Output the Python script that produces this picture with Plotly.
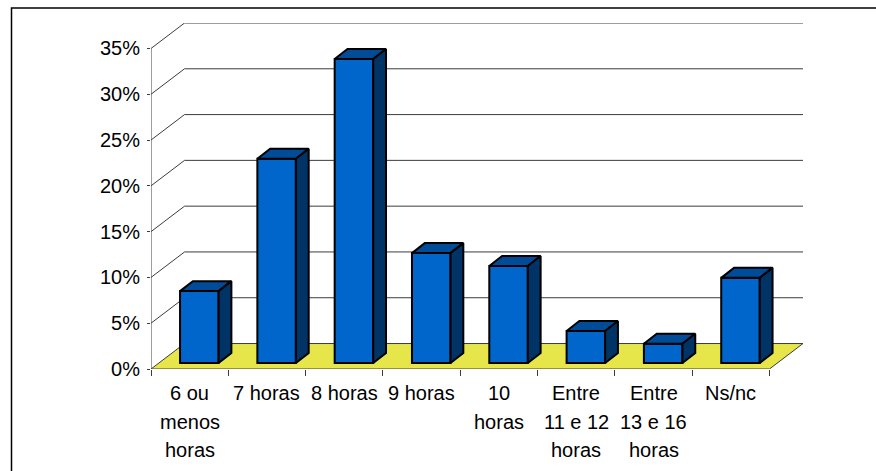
import plotly.graph_objects as go

# --- data -------------------------------------------------------------
category_lines = [
    ["6 ou", "menos", "horas"],
    ["7 horas"],
    ["8 horas"],
    ["9 horas"],
    ["10", "horas"],
    ["Entre", "11 e 12", "horas"],
    ["Entre", "13 e 16", "horas"],
    ["Ns/nc"],
]
values = [7.85, 22.3, 33.2, 12.0, 10.6, 3.5, 2.1, 9.3]
y_ticks = [0, 5, 10, 15, 20, 25, 30, 35]
y_tick_labels = ["0%", "5%", "10%", "15%", "20%", "25%", "30%", "35%"]

# --- style / pseudo-3D geometry (in axis units) -----------------------
FRONT, TOP, SIDE = "#0066CC", "#004C99", "#003366"
FLOOR = "#E6E64A"
GRID = "#3C3C3C"
FONT = dict(family="Liberation Sans, Arial, sans-serif", size=20, color="#000000")

PX_X, PX_Y = 77.25, 9.17          # pixels per axis unit
WALL_DX, WALL_DY = 33.5 / PX_X, 25.5 / PX_Y
BAR_W = 38.5 / PX_X
BAR_OFF = 0.125
BAR_BASE = 6 / PX_Y
BAR_DX, BAR_DY = 12.8 / PX_X, 10 / PX_Y

n = len(values)
L, R, T, B = 151, 73, 22.5, 102
x_max, y_max = n + WALL_DX, y_ticks[-1] + WALL_DY
plot_w, plot_h = 876 - L - R, 471 - T - B

centers = [i + 0.5 + BAR_OFF for i in range(n)]
fig = go.Figure()

# bar front faces
fig.add_trace(go.Bar(
    x=centers, y=values, base=[BAR_BASE] * n, width=[BAR_W] * n,
    marker=dict(color=FRONT, line=dict(color="#000000", width=2)),
    hoverinfo="skip", showlegend=False,
))

# bar top and side faces
for c, v in zip(centers, values):
    x0, x1 = c - BAR_W / 2, c + BAR_W / 2
    y0, y1 = BAR_BASE, BAR_BASE + v
    fig.add_trace(go.Scatter(
        x=[x0, x1, x1 + BAR_DX, x0 + BAR_DX, x0],
        y=[y1, y1, y1 + BAR_DY, y1 + BAR_DY, y1],
        mode="lines", fill="toself", fillcolor=TOP,
        line=dict(color="#000000", width=2),
        hoverinfo="skip", showlegend=False,
    ))
    fig.add_trace(go.Scatter(
        x=[x1, x1 + BAR_DX, x1 + BAR_DX, x1, x1],
        y=[y0, y0 + BAR_DY, y1 + BAR_DY, y1, y0],
        mode="lines", fill="toself", fillcolor=SIDE,
        line=dict(color="#000000", width=2),
        hoverinfo="skip", showlegend=False,
    ))

shapes = []
def line(x0, y0, x1, y1, color=GRID, width=1):
    shapes.append(dict(type="line", xref="x", yref="y", x0=x0, y0=y0, x1=x1, y1=y1,
                       layer="below", line=dict(color=color, width=width)))

# floor
shapes.append(dict(type="path", xref="x", yref="y", layer="below",
                   path=f"M 0 0 L {n} 0 L {x_max} {WALL_DY} L {WALL_DX} {WALL_DY} Z",
                   fillcolor=FLOOR, line=dict(width=0)))
# wall grid and side wall diagonals
for t in y_ticks:
    line(0, t, WALL_DX, t + WALL_DY)
    line(WALL_DX, t + WALL_DY, x_max, t + WALL_DY)
# axis lines
line(0, 0, 0, y_ticks[-1])
line(0, 0, n, 0)
line(n, 0, x_max, WALL_DY)

# outer chart frame, running off the right and bottom of the picture
shapes.append(dict(type="rect", xref="paper", yref="paper",
                   x0=(11.5 - L) / plot_w, x1=(890 - L) / plot_w,
                   y0=(471 - B - 490) / plot_h, y1=(471 - B - 7.5) / plot_h,
                   layer="below", line=dict(color="#000000", width=1.5)))

# multi-line category labels, one text per line for the wide line spacing
annotations = []
LINE_SHIFTS = [-24, -53, -81]
for i, lines in enumerate(category_lines):
    for text, shift in zip(lines, LINE_SHIFTS):
        annotations.append(dict(x=i + 0.5, y=0, xref="x", yref="y", text=text,
                                showarrow=False, yshift=shift, yanchor="middle",
                                xanchor="center", font=FONT))

fig.update_layout(
    width=876, height=471,
    margin=dict(l=L, r=R, t=T, b=B, pad=0, autoexpand=False),
    paper_bgcolor="#FFFFFF", plot_bgcolor="rgba(0,0,0,0)",
    barmode="overlay", showlegend=False,
    font=FONT, shapes=shapes, annotations=annotations,
    xaxis=dict(range=[0, x_max], tickvals=list(range(n + 1)), showticklabels=False,
               ticks="outside", ticklen=6, tickcolor=GRID, tickwidth=1,
               showgrid=False, zeroline=False, showline=False),
    yaxis=dict(range=[0, y_max], tickvals=y_ticks, ticktext=y_tick_labels,
               ticks="outside", ticklen=3, tickcolor=GRID, tickwidth=1,
               ticklabelstandoff=3, tickfont=FONT,
               showgrid=False, zeroline=False, showline=False),
)

fig.write_html("out.html", config=dict(displayModeBar=False),
               post_script="document.body.style.margin='0';document.body.style.overflow='hidden';")
